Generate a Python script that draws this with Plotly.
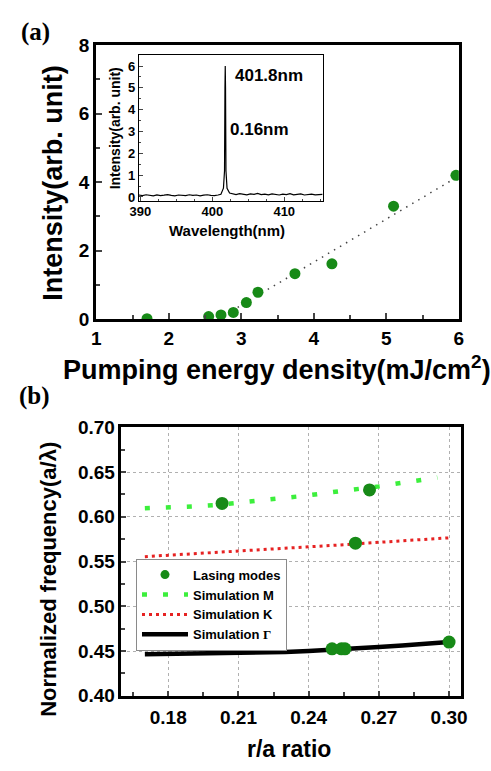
import plotly.graph_objects as go

W, H = 491, 771

# ---------------- Panel (a) data ----------------
pump_x = [1.70, 2.55, 2.72, 2.89, 3.07, 3.23, 3.74, 4.25, 5.10, 5.96]
pump_y = [0.02, 0.08, 0.13, 0.20, 0.49, 0.79, 1.33, 1.62, 3.30, 4.20]
fit_x = [2.95, 6.0]
fit_y = [0.35, 4.18]

# inset spectrum
spec_wl = [389.8, 390.3, 390.8, 391.3, 391.8, 392.3, 392.8, 393.3, 393.8, 394.3,
           394.8, 395.3, 395.8, 396.3, 396.8, 397.3, 397.8, 398.3, 398.8, 399.3,
           399.8, 400.3, 400.8,
           401.2, 401.55, 401.7, 401.76, 401.8, 401.84, 401.9, 402.05, 402.4,
           402.8, 403.3, 403.8, 404.3, 404.8, 405.3, 405.8, 406.3, 406.8, 407.3,
           407.8, 408.3, 408.8, 409.3, 409.8, 410.3, 410.8, 411.3, 411.8, 412.3,
           412.8, 413.3, 413.8, 414.3, 414.8, 415.3]
spec_int = [0.09, 0.06, 0.10, 0.07, 0.05, 0.09, 0.06, 0.08, 0.11, 0.07,
            0.05, 0.09, 0.08, 0.06, 0.10, 0.07, 0.09, 0.05, 0.08, 0.10,
            0.07, 0.06, 0.09,
            0.12, 0.40, 1.20, 5.00, 6.00, 5.00, 1.20, 0.40, 0.18,
            0.14, 0.11, 0.15, 0.12, 0.10, 0.14, 0.12, 0.16, 0.11, 0.13,
            0.10, 0.14, 0.12, 0.09, 0.13, 0.11, 0.15, 0.10, 0.12, 0.14,
            0.09, 0.12, 0.13, 0.10, 0.11, 0.12]

# ---------------- Panel (b) data ----------------
simM_x = [0.17, 0.18, 0.19, 0.20, 0.21, 0.22, 0.23, 0.24, 0.25, 0.26, 0.27, 0.28, 0.29, 0.295]
simM_y = [0.6095, 0.6100, 0.6115, 0.6130, 0.6155, 0.6180, 0.6210, 0.6240, 0.6275, 0.6305, 0.6340, 0.6380, 0.6420, 0.6440]
simK_x = [0.17, 0.19, 0.21, 0.23, 0.25, 0.27, 0.29, 0.30]
simK_y = [0.5555, 0.5585, 0.5615, 0.5645, 0.5680, 0.5715, 0.5750, 0.5765]
simG_x = [0.17, 0.19, 0.21, 0.23, 0.24, 0.25, 0.26, 0.27, 0.28, 0.29, 0.30]
simG_y = [0.4465, 0.4470, 0.4478, 0.4490, 0.4500, 0.4512, 0.4528, 0.4545, 0.4562, 0.4580, 0.4600]
lase_x = [0.203, 0.266, 0.260, 0.250, 0.254, 0.2555, 0.300]
lase_y = [0.615, 0.630, 0.5705, 0.4525, 0.4525, 0.4525, 0.460]

a_xticks = [1, 2, 3, 4, 5, 6]
a_yticks = [0, 2, 4, 6, 8]
in_xticks = [390, 400, 410]
in_yticks = [0, 1, 2, 3, 4, 5, 6]
b_xticks = [0.18, 0.21, 0.24, 0.27, 0.30]
b_xticklabels = ["0.18", "0.21", "0.24", "0.27", "0.30"]
b_yticks = [0.40, 0.45, 0.50, 0.55, 0.60, 0.65, 0.70]
b_yticklabels = ["0.40", "0.45", "0.50", "0.55", "0.60", "0.65", "0.70"]

GREEN = "#178a17"
LIME = "#3cef3c"
RED = "#e62222"
FONT = "Arial, Liberation Sans, sans-serif"
SERIF = "Times New Roman, Liberation Serif, serif"


def px(x):
    return x / W


def py(y):
    return 1 - y / H


def bold(labels):
    return ["<b>%s</b>" % l for l in labels]


fig = go.Figure()

# panel (a)
fig.add_trace(go.Scatter(x=fit_x, y=fit_y, mode="lines", xaxis="x", yaxis="y",
                         line=dict(color="#444444", width=1.5, dash="1.5px,5.5px"),
                         showlegend=False, hoverinfo="skip"))
fig.add_trace(go.Scatter(x=pump_x, y=pump_y, mode="markers", xaxis="x", yaxis="y",
                         marker=dict(color=GREEN, size=11), showlegend=False))
# inset
fig.add_trace(go.Scatter(x=spec_wl, y=spec_int, mode="lines", xaxis="x2", yaxis="y2",
                         line=dict(color="black", width=1.2), showlegend=False))

# panel (b)
fig.add_trace(go.Scatter(x=simG_x, y=simG_y, mode="lines", xaxis="x3", yaxis="y3",
                         line=dict(color="black", width=4.5),
                         name="Simulation <span style='font-family:Times New Roman, Liberation Serif, serif'>Γ</span>",
                         legendrank=4))
fig.add_trace(go.Scatter(x=simK_x, y=simK_y, mode="lines", xaxis="x3", yaxis="y3",
                         line=dict(color=RED, width=3, dash="3px,4px"), name="Simulation K",
                         legendrank=3))
fig.add_trace(go.Scatter(x=simM_x, y=simM_y, mode="lines", xaxis="x3", yaxis="y3",
                         line=dict(color=LIME, width=4.5, dash="5px,16px"), name="Simulation M",
                         legendrank=2))
fig.add_trace(go.Scatter(x=lase_x, y=lase_y, mode="markers", xaxis="x3", yaxis="y3",
                         marker=dict(color=GREEN, size=13), showlegend=False))
fig.add_trace(go.Scatter(x=[None], y=[None], mode="markers", xaxis="x3", yaxis="y3",
                         marker=dict(color=GREEN, size=9), name="Lasing modes",
                         legendrank=1))

tickfont_big = dict(family=FONT, size=19, color="black", weight="bold")
tickfont_in = dict(family=FONT, size=13, color="black", weight="bold")

fig.update_layout(
    width=W, height=H,
    margin=dict(l=0, r=0, t=0, b=0),
    paper_bgcolor="white", plot_bgcolor="white",
    font=dict(family=FONT, color="black"),
    xaxis=dict(domain=[px(90), px(464)], anchor="y", range=[1, 6],
               tickvals=a_xticks, ticktext=bold([str(v) for v in a_xticks]),
               ticks="inside", ticklen=6, tickwidth=2,
               showline=True, linewidth=3, linecolor="black", mirror=True,
               showgrid=False, zeroline=False, tickfont=tickfont_big,
               minor=dict(ticks="inside", ticklen=4, dtick=0.5, tickwidth=1.5)),
    yaxis=dict(domain=[py(318), py(36)], anchor="x", range=[0, 8],
               tickvals=a_yticks, ticktext=bold([str(v) for v in a_yticks]),
               ticks="inside", ticklen=6, tickwidth=2,
               showline=True, linewidth=3, linecolor="black", mirror=True,
               showgrid=False, zeroline=False, tickfont=tickfont_big,
               minor=dict(ticks="inside", ticklen=4, dtick=1, tickwidth=1.5)),
    xaxis2=dict(domain=[px(134), px(324)], anchor="y2", range=[389.8, 415.4],
                tickvals=in_xticks, ticktext=bold([str(v) for v in in_xticks]),
                ticks="inside", ticklen=4, tickwidth=1, ticklabelstandoff=-1,
                showline=True, linewidth=1.3, linecolor="black", mirror=True,
                showgrid=False, zeroline=False, tickfont=tickfont_in,
                minor=dict(ticks="inside", ticklen=2, dtick=2.5)),
    yaxis2=dict(domain=[py(196), py(46)], anchor="x2", range=[-0.17, 6.52],
                tickvals=in_yticks, ticktext=bold([str(v) for v in in_yticks]),
                ticks="inside", ticklen=4, tickwidth=1,
                showline=True, linewidth=1.3, linecolor="black", mirror=True,
                showgrid=False, zeroline=False, tickfont=tickfont_in,
                minor=dict(ticks="inside", ticklen=2, dtick=0.5)),
    xaxis3=dict(domain=[px(116), px(466)], anchor="y3", range=[0.16, 0.305],
                tickvals=b_xticks, ticktext=bold(b_xticklabels), ticks="inside", ticklen=5, tickwidth=1.5,
                showline=True, linewidth=2.5, linecolor="black", mirror=True,
                showgrid=True, gridcolor="#b0b0b0", griddash="dot", gridwidth=1,
                zeroline=False, tickfont=tickfont_big, ticklabelstandoff=3,
                minor=dict(ticks="inside", ticklen=4, dtick=0.015, tick0=0.18, tickwidth=1.5, showgrid=False)),
    yaxis3=dict(domain=[py(705), py(429)], anchor="x3", range=[0.40, 0.70],
                tickvals=b_yticks, ticktext=bold(b_yticklabels), ticks="inside", ticklen=5, tickwidth=1.5,
                showline=True, linewidth=2.5, linecolor="black", mirror=True,
                showgrid=True, gridcolor="#b0b0b0", griddash="dot", gridwidth=1,
                zeroline=False, tickfont=tickfont_big,
                minor=dict(ticks="inside", ticklen=4, dtick=0.025, tick0=0.40, tickwidth=1.5, showgrid=False)),
    legend=dict(x=px(131), y=py(564), xanchor="left", yanchor="top",
                bgcolor="white", bordercolor="#8a8a8a", borderwidth=1,
                font=dict(family=FONT, size=13, color="black", weight="bold"),
                itemwidth=46, tracegroupgap=0),
    showlegend=True,
)

ann = []


def add_text(text, x, y, size, angle=0, family=FONT, xanchor="center", yanchor="middle"):
    ann.append(dict(text="<b>%s</b>" % text, x=px(x), y=py(y), xref="paper", yref="paper",
                    showarrow=False, textangle=angle, xanchor=xanchor, yanchor=yanchor,
                    font=dict(family=family, size=size, color="black")))


add_text("(a)", 27, 23, 25, family=SERIF)
add_text("(b)", 26, 397, 25, family=SERIF)
add_text("Intensity(arb. unit)", 46, 178, 27, angle=-90)
add_text("Pumping energy density(mJ/cm<sup>2</sup>)", 276, 368, 27)
add_text("Intensity(arb. unit)", 109, 122, 14, angle=-90)
add_text("Wavelength(nm)", 225, 227, 15)
add_text("401.8nm", 268, 67, 17)
add_text("0.16nm", 258, 123, 17)
add_text("Normalized frequency(a/λ)", 40, 585, 22, angle=-90)
add_text("r/a ratio", 289, 760, 23)
fig.update_layout(annotations=ann)

fig.write_html("out.html")
